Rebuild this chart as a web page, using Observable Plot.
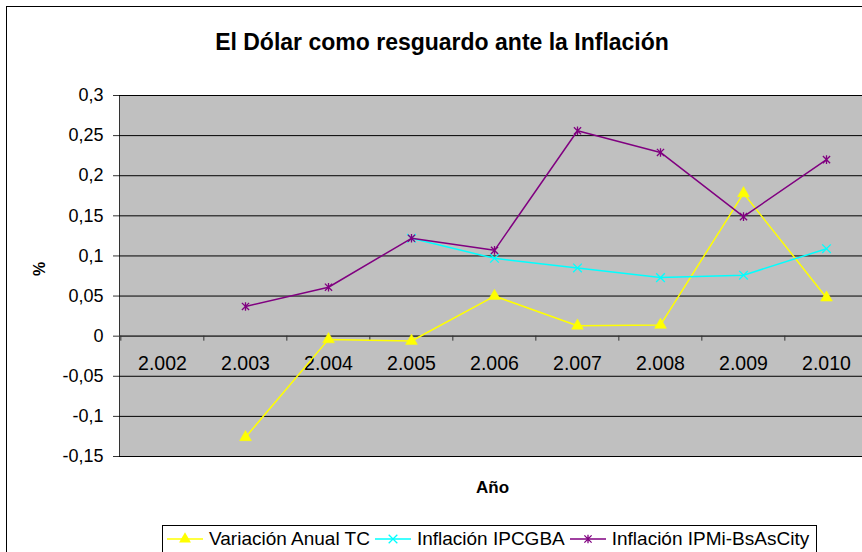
<!DOCTYPE html>
<html>
<head>
<meta charset="utf-8">
<script src="https://cdn.jsdelivr.net/npm/d3@7"></script>
<script src="https://cdn.jsdelivr.net/npm/@observablehq/plot@0.6"></script>
<style>
  html, body { margin: 0; padding: 0; background: #fff; }
  body { width: 862px; height: 552px; overflow: hidden; position: relative; font-family: "Liberation Sans", Arial, sans-serif; }
  #frame { position: absolute; left: 6px; top: 6px; width: 900px; height: 600px; border: 1px solid #000; box-sizing: border-box; }
  #title { position: absolute; left: 0; width: 884px; top: 28px; height: 28px; line-height: 28px; text-align: center; font-weight: bold; font-size: 23px; color: #000; }
  #chart { position: absolute; left: 0; top: 85px; }
  #legend { position: absolute; left: 162px; top: 525px; width: 655px; height: 40px; border: 1px solid #000; box-sizing: border-box; background: #fff; display: flex; align-items: flex-start; padding-top: 2px; padding-left: 4px; font-size: 19px; color: #000; white-space: nowrap; }
  .item { display: flex; align-items: center; margin-right: 5px; }
  .item svg { margin-right: 6px; }
</style>
</head>
<body>
<div id="frame"></div>
<div id="title"></div>
<div id="chart"></div>
<div id="legend"></div>
<script>
const chartTitle = "El Dólar como resguardo ante la Inflación";
const xTitle = "Año";
const yTitle = "%";
const categories = [2002, 2003, 2004, 2005, 2006, 2007, 2008, 2009, 2010];
const xLabels = ["2.002", "2.003", "2.004", "2.005", "2.006", "2.007", "2.008", "2.009", "2.010"];
const yTicks = [-0.15, -0.1, -0.05, 0, 0.05, 0.1, 0.15, 0.2, 0.25, 0.3];
const yTickLabels = ["-0,15", "-0,1", "-0,05", "0", "0,05", "0,1", "0,15", "0,2", "0,25", "0,3"];
const seriesNames = ["Variación Anual TC", "Inflación IPCGBA", "Inflación IPMi-BsAsCity"];
const seriesColors = ["#FFFF00", "#00FFFF", "#800080"];
const tcValues  = [null, -0.126, -0.004, -0.006, 0.050, 0.013, 0.014, 0.178, 0.048];
const ipcValues = [null, null, null, 0.122, 0.097, 0.085, 0.073, 0.076, 0.109];
const ipmValues = [null, 0.037, 0.061, 0.122, 0.107, 0.256, 0.229, 0.149, 0.220];

document.getElementById("title").textContent = chartTitle;

const toRows = (vals) => categories.map((c, i) => ({x: c, y: vals[i]}));
const tcRows = toRows(tcValues), ipcRows = toRows(ipcValues), ipmRows = toRows(ipmValues);
const defined = rows => rows.filter(d => d.y != null);

const starSymbol = {
  draw(ctx, size) {
    const r = Math.sqrt(size / Math.PI);
    ctx.moveTo(-r, -r); ctx.lineTo(r, r);
    ctx.moveTo(-r, r); ctx.lineTo(r, -r);
    ctx.moveTo(0, -r * 1.2); ctx.lineTo(0, r * 1.2);
  }
};

const W = 870, mL = 119, mR = 1;
const step = (W - mL - mR) / categories.length;
const labelOf = new Map(categories.map((c, i) => [c, xLabels[i]]));
const yLabelOf = new Map(yTicks.map((t, i) => [t, yTickLabels[i]]));

const plot = Plot.plot({
  width: W,
  height: 430,
  marginLeft: mL,
  marginRight: mR,
  marginTop: 10,
  marginBottom: 59,
  style: {maxWidth: "none", background: "transparent", fontFamily: "'Liberation Sans', Arial, sans-serif", color: "#000", overflow: "visible"},
  x: {type: "point", domain: categories, padding: 0.5},
  y: {domain: [-0.15, 0.3]},
  marks: [
    Plot.frame({fill: "#C0C0C0", stroke: "#333"}),
    Plot.ruleY(yTicks, {stroke: "#000", strokeWidth: 1}),
    Plot.ruleY([0], {stroke: "#444", strokeWidth: 1.3}),
    Plot.ruleX(categories, {x: d => d, y1: 0, y2: 0, insetBottom: -5, dx: -step / 2, stroke: "#333"}),
    Plot.axisY(yTicks, {tickFormat: t => yLabelOf.get(t), tickSize: 6, tickPadding: 10, fontSize: 18, label: null, stroke: "#333"}),
    Plot.axisX({ticks: [], label: null, tickSize: 0}),
    Plot.text(categories, {x: d => d, y: () => 0, text: d => labelOf.get(d), dy: 28, fontSize: 19.5, fill: "#000"}),
    Plot.text([yTitle], {frameAnchor: "left", rotate: -90, dx: -80, fontWeight: "bold", fontSize: 16, fill: "#000"}),
    Plot.text([xTitle], {frameAnchor: "bottom", dy: 36, dx: -2, fontWeight: "bold", fontSize: 17, fill: "#000"}),
    Plot.line(tcRows, {x: "x", y: "y", stroke: seriesColors[0], strokeWidth: 1.5}),
    Plot.dot(defined(tcRows), {x: "x", y: "y", symbol: "triangle", r: 4.4, fill: seriesColors[0], stroke: seriesColors[0], strokeWidth: 0.5}),
    Plot.line(ipcRows, {x: "x", y: "y", stroke: seriesColors[1], strokeWidth: 1.5}),
    Plot.dot(defined(ipcRows), {x: "x", y: "y", symbol: "times", r: 4, fill: "none", stroke: seriesColors[1], strokeWidth: 1.3}),
    Plot.line(ipmRows, {x: "x", y: "y", stroke: seriesColors[2], strokeWidth: 1.5}),
    Plot.dot(defined(ipmRows), {x: "x", y: "y", symbol: starSymbol, r: 3.6, fill: "none", stroke: seriesColors[2], strokeWidth: 1.3})
  ]
});
document.getElementById("chart").appendChild(plot);

// Legend
const legend = d3.select("#legend");
const legendSymbols = ["triangle", "times", "star"];
seriesNames.forEach((name, i) => {
  const item = legend.append("div").attr("class", "item");
  const svg = item.append("svg").attr("width", 36).attr("height", 22);
  svg.append("line").attr("x1", 0).attr("x2", 36).attr("y1", 11).attr("y2", 11)
    .attr("stroke", seriesColors[i]).attr("stroke-width", 1.5);
  const g = svg.append("g").attr("transform", "translate(18,11)");
  if (legendSymbols[i] === "triangle") {
    g.append("path").attr("d", d3.symbol(d3.symbolTriangle, 4.4 * 4.4 * Math.PI)()).attr("fill", seriesColors[i]);
  } else if (legendSymbols[i] === "times") {
    g.append("path").attr("d", d3.symbol(d3.symbolTimes, 16 * Math.PI)()).attr("fill", "none").attr("stroke", seriesColors[i]).attr("stroke-width", 1.3);
  } else {
    g.append("path").attr("d", d3.symbol(starSymbol, 3.6 * 3.6 * Math.PI)()).attr("fill", "none").attr("stroke", seriesColors[i]).attr("stroke-width", 1.3);
  }
  item.append("span").text(name);
});
</script>
</body>
</html>
